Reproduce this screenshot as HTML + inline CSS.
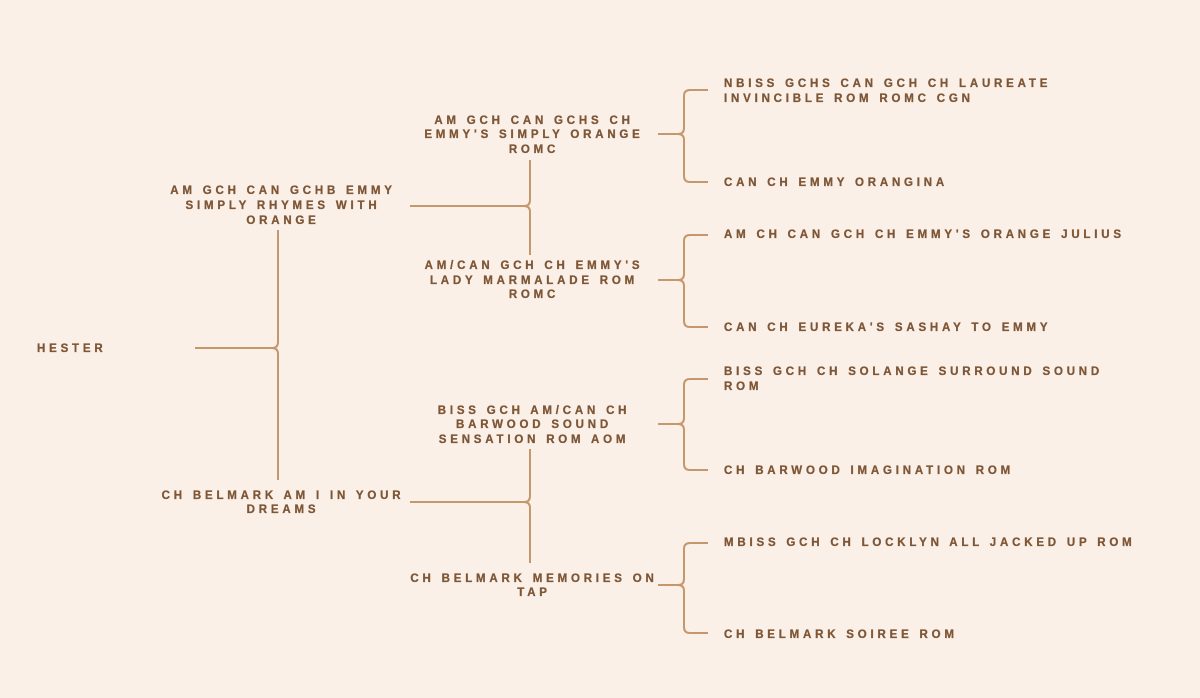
<!DOCTYPE html>
<html><head><meta charset="utf-8"><style>
html,body{margin:0;padding:0;background:#fbf0e8;}
svg{display:block}
text{font-family:"Liberation Sans",sans-serif;font-weight:bold;font-size:11.5px;letter-spacing:3.8px;fill:#7d5636;stroke:#7d5636;stroke-width:0.3px;}
.c{text-anchor:middle}
path{fill:none;stroke:#c4976c;stroke-width:2}
</style></head><body>
<svg width="1200" height="698" viewBox="0 0 1200 698">
<rect width="1200" height="698" fill="#fbf0e8"/>
<path d="M278 230 V342 Q278 348 272 348 H195 M272 348 Q278 348 278 354 V480"/>
<path d="M530 160 V200 Q530 206 524 206 H410 M524 206 Q530 206 530 212 V255"/>
<path d="M530 449 V496 Q530 502 524 502 H410 M524 502 Q530 502 530 508 V563"/>
<path d="M708 90 H690 Q684 90 684 96 V128 Q684 134 678 134 H658 M678 134 Q684 134 684 140 V176 Q684 182 690 182 H708"/>
<path d="M708 235 H690 Q684 235 684 241 V274 Q684 280 678 280 H658 M678 280 Q684 280 684 286 V321 Q684 327 690 327 H708"/>
<path d="M708 379 H690 Q684 379 684 385 V418 Q684 424 678 424 H658 M678 424 Q684 424 684 430 V464 Q684 470 690 470 H708"/>
<path d="M708 543 H690 Q684 543 684 549 V579 Q684 585 678 585 H658 M678 585 Q684 585 684 591 V627 Q684 633 690 633 H708"/>

<text x="37" y="352">HESTER</text>

<text class="c" x="283" y="194">AM GCH CAN GCHB EMMY</text>
<text class="c" x="283" y="209">SIMPLY RHYMES WITH</text>
<text class="c" x="283" y="224">ORANGE</text>
<text class="c" x="283" y="499">CH BELMARK AM I IN YOUR</text>
<text class="c" x="283" y="513">DREAMS</text>

<text class="c" x="534" y="124">AM GCH CAN GCHS CH</text>
<text class="c" x="534" y="138">EMMY'S SIMPLY ORANGE</text>
<text class="c" x="534" y="153">ROMC</text>
<text class="c" x="534" y="269">AM/CAN GCH CH EMMY'S</text>
<text class="c" x="534" y="284">LADY MARMALADE ROM</text>
<text class="c" x="534" y="298">ROMC</text>
<text class="c" x="534" y="414">BISS GCH AM/CAN CH</text>
<text class="c" x="534" y="428">BARWOOD SOUND</text>
<text class="c" x="534" y="443">SENSATION ROM AOM</text>
<text class="c" x="534" y="582">CH BELMARK MEMORIES ON</text>
<text class="c" x="534" y="596">TAP</text>

<text x="724" y="87">NBISS GCHS CAN GCH CH LAUREATE</text>
<text x="724" y="102">INVINCIBLE ROM ROMC CGN</text>
<text x="724" y="186">CAN CH EMMY ORANGINA</text>
<text x="724" y="238">AM CH CAN GCH CH EMMY'S ORANGE JULIUS</text>
<text x="724" y="331">CAN CH EUREKA'S SASHAY TO EMMY</text>
<text x="724" y="375">BISS GCH CH SOLANGE SURROUND SOUND</text>
<text x="724" y="390">ROM</text>
<text x="724" y="474">CH BARWOOD IMAGINATION ROM</text>
<text x="724" y="546">MBISS GCH CH LOCKLYN ALL JACKED UP ROM</text>
<text x="724" y="638">CH BELMARK SOIREE ROM</text>
</svg>
</body></html>
